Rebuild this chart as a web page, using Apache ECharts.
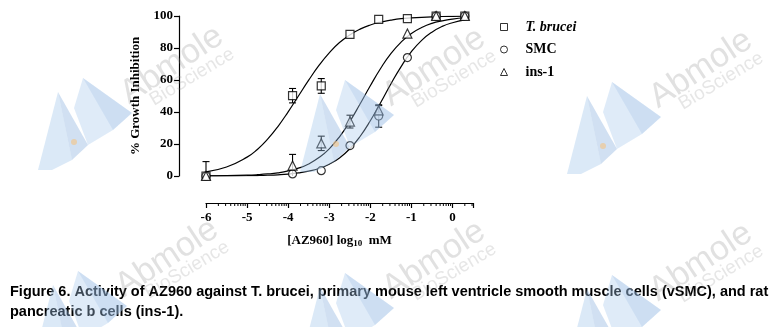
<!DOCTYPE html>
<html><head><meta charset="utf-8">
<script src="https://cdn.jsdelivr.net/npm/echarts@6/dist/echarts.min.js"></script>
<style>html,body{margin:0;padding:0;background:#fff}#c{width:779px;height:327px}</style>
</head><body><div id="c"></div>
<script>
// ---------------- data ----------------
const seriesNames = ['T. brucei', 'SMC', 'ins-1'];
// log10 concentration (mM) of measured points
const concLog = [-6, -3.893, -3.194, -2.495, -1.796, -1.097, -0.398, 0.301];
const tbrucei = [0, 50.2, 56.3, 88.5, 97.9, 98.3, 100, 100];
const smc     = [0, 1.3, 3.3, 19.0, 37.5, 74.0, 100, 100];
const ins1    = [0, 6.5, 20.4, 34.0, 41.0, 89.0, 100, 100];
const tbruceiErr = [0, 4.5, 4.6, 0, 0, 0, 0, 0];
const smcErr     = [0, 0, 0, 0, 7.0, 0, 0, 0];
const ins1Err    = [9.0, 7.0, 4.5, 4.0, 3.0, 0, 0, 0];
// fitted curves
const curveX = [-6, -5.5, -5, -4.75, -4.5, -4.25, -4, -3.75, -3.5, -3.25, -3, -2.75, -2.5, -2.25, -2, -1.75, -1.5, -1.25, -1, -0.75, -0.5, -0.25, 0, 0.3];
const tbruceiCurve = [2.6, 5.6, 11.8, 16.6, 23.0, 30.9, 40.1, 50.0, 59.9, 69.1, 77.0, 83.4, 88.2, 91.8, 94.4, 96.2, 97.4, 98.3, 98.8, 99.2, 99.5, 99.7, 99.8, 99.9];
const smcCurve     = [0.03, 0.07, 0.18, 0.29, 0.47, 0.75, 1.19, 1.9, 3.0, 4.7, 7.4, 11.3, 17.0, 24.7, 34.5, 45.8, 57.5, 68.4, 77.7, 84.8, 89.9, 93.5, 95.8, 97.6];
const ins1Curve    = [0.08, 0.2, 0.51, 0.81, 1.28, 2.0, 3.15, 4.9, 7.55, 11.5, 17.0, 24.5, 34.0, 45.0, 56.4, 67.2, 76.5, 83.7, 89.1, 92.8, 95.4, 97.0, 98.1, 98.9];
// axis ticks
const yTicks = [0, 20, 40, 60, 80, 100];
const xMajor = [-6, -5, -4, -3, -2, -1, 0];
const minorFactors = [2, 3, 4, 5, 6, 7, 8, 9];
const captionLines = [
  'Figure 6. Activity of AZ960 against T. brucei, primary mouse left ventricle smooth muscle cells (vSMC), and rat',
  'pancreatic b cells (ins-1).'
];

// ---------------- chart ----------------
const X_MIN = -6, X_MAX = 0.5;
const AXIS_OFFSET = 27;
const serif = '"Liberation Serif","Times New Roman",serif';
const minorTicks = [];
xMajor.forEach(d => minorFactors.forEach(k => { const v = d + Math.log10(k); if (v <= X_MAX) minorTicks.push([v, 0]); }));

function errData(vals, errs) {
  const out = [];
  concLog.forEach((x, i) => { if (errs[i] > 0) out.push([x, Math.max(0, vals[i] - errs[i]), vals[i] + errs[i]]); });
  return out;
}
function errRender(params, api) {
  const x = api.value(0), lo = api.value(1), hi = api.value(2);
  const pl = api.coord([x, lo]), ph = api.coord([x, hi]);
  const hw = 3.5, st = { stroke: '#000', lineWidth: 1.1 };
  const ch = [
    { type: 'line', shape: { x1: pl[0], y1: pl[1], x2: ph[0], y2: ph[1] }, style: st },
    { type: 'line', shape: { x1: ph[0] - hw, y1: ph[1], x2: ph[0] + hw, y2: ph[1] }, style: st }
  ];
  if (lo > 0) ch.push({ type: 'line', shape: { x1: pl[0] - hw, y1: pl[1], x2: pl[0] + hw, y2: pl[1] }, style: st });
  return { type: 'group', children: ch };
}
function minorRender(params, api) {
  const p = api.coord([api.value(0), 0]);
  return { type: 'line', shape: { x1: p[0], y1: p[1] + AXIS_OFFSET, x2: p[0], y2: p[1] + AXIS_OFFSET + 3 }, style: { stroke: '#000', lineWidth: 1 } };
}

// watermark
const wmAnchors = [[38, 78], [300, 80], [567, 82], [33, 271], [300, 273], [567, 275]];
const wm = [];
wmAnchors.forEach(([ax, ay]) => {
  const P = pts => pts.map(([a, b]) => [ax + a, ay + b]);
  wm.push({ type: 'polygon', shape: { points: P([[0, 92], [20, 14], [34, 82], [14, 92]]) }, style: { fill: 'rgba(160,198,235,0.38)' }, silent: true, z: 100 });
  wm.push({ type: 'polygon', shape: { points: P([[20, 14], [50, 67], [34, 82]]) }, style: { fill: 'rgba(140,178,222,0.40)' }, silent: true, z: 100 });
  wm.push({ type: 'polygon', shape: { points: P([[45, 0], [94, 35], [75, 52], [50, 67], [36, 30]]) }, style: { fill: 'rgba(165,200,235,0.36)' }, silent: true, z: 100 });
  wm.push({ type: 'polygon', shape: { points: P([[45, 0], [94, 35], [75, 52]]) }, style: { fill: 'rgba(140,178,222,0.22)' }, silent: true, z: 100 });
  wm.push({ type: 'circle', shape: { cx: ax + 36, cy: ay + 64, r: 3 }, style: { fill: 'rgba(245,195,130,0.6)' }, silent: true, z: 100 });
  wm.push({ type: 'text', x: ax + 134, y: ay - 13, rotation: 0.58, silent: true, z: 100,
    style: { text: 'Abmole', fill: 'rgba(140,140,140,0.26)', font: '34px "Liberation Sans",Arial,sans-serif', align: 'center', verticalAlign: 'middle' } });
  wm.push({ type: 'text', x: ax + 154, y: ay - 1, rotation: 0.54, silent: true, z: 100,
    style: { text: 'BioScience', fill: 'rgba(140,140,140,0.22)', font: '19px "Liberation Sans",Arial,sans-serif', align: 'center', verticalAlign: 'middle' } });
});
const caption = captionLines.map((t, i) => ({
  type: 'text', x: 10, y: 292 + i * 19.5, z: 50,
  style: { text: t, fill: '#000', font: 'bold 14.5px "Liberation Sans",Arial,sans-serif', align: 'left', verticalAlign: 'middle' }
}));

const blackLine = { color: '#000', width: 1.2 };
const markerStyle = { color: '#fff', borderColor: '#000', borderWidth: 1.2 };
const symbols = ['rect', 'circle', 'triangle'];
const values = [tbrucei, smc, ins1];
const errs = [tbruceiErr, smcErr, ins1Err];
const curves = [tbruceiCurve, smcCurve, ins1Curve];

const series = [];
curves.forEach((c, k) => series.push({
  name: 'fit-' + k, type: 'line', data: curveX.map((x, i) => [x, c[i]]), showSymbol: false, symbol: 'none',
  smooth: true, lineStyle: blackLine, itemStyle: { color: '#000' }, z: 2, silent: true
}));
errs.forEach((e, k) => series.push({
  name: 'err-' + k, type: 'custom', renderItem: errRender, data: errData(values[k], e), z: 3, silent: true, clip: false
}));
values.forEach((v, k) => series.push({
  name: seriesNames[k], type: 'scatter', symbol: symbols[k], symbolSize: k === 2 ? 9 : 8,
  data: concLog.map((x, i) => [x, v[i]]), itemStyle: markerStyle, z: 5
}));
series.push({ name: 'minor', type: 'custom', renderItem: minorRender, data: minorTicks, clip: false, silent: true, z: 1 });

const chart = echarts.init(document.getElementById('c'));
chart.setOption({
  animation: false,
  backgroundColor: '#fff',
  grid: { left: 206, right: 306, top: 16, bottom: 151, containLabel: false },
  xAxis: {
    type: 'value', min: X_MIN, max: X_MAX, interval: 1, offset: AXIS_OFFSET,
    axisLine: { show: true, onZero: false, lineStyle: blackLine },
    axisTick: { show: true, length: 5, lineStyle: blackLine },
    minorTick: { show: false },
    splitLine: { show: false },
    axisLabel: { color: '#000', fontFamily: serif, fontWeight: 'bold', fontSize: 13, margin: 8,
      formatter: v => (xMajor.indexOf(v) >= 0 ? String(v) : '') },
    name: '[AZ960] log{sub|10}  mM', nameLocation: 'middle', nameGap: 30,
    nameTextStyle: { color: '#000', fontFamily: serif, fontWeight: 'bold', fontSize: 13,
      rich: { sub: { fontFamily: serif, fontWeight: 'bold', fontSize: 9, padding: [6, 0, 0, 0], color: '#000' } } }
  },
  yAxis: {
    type: 'value', min: yTicks[0], max: yTicks[yTicks.length - 1], interval: 20, offset: AXIS_OFFSET,
    axisLine: { show: true, onZero: false, lineStyle: blackLine },
    axisTick: { show: true, length: 5, lineStyle: blackLine },
    splitLine: { show: false },
    axisLabel: { color: '#000', fontFamily: serif, fontWeight: 'bold', fontSize: 13, margin: 6 },
    name: '% Growth Inhibition', nameLocation: 'middle', nameGap: 37,
    nameTextStyle: { color: '#000', fontFamily: serif, fontWeight: 'bold', fontSize: 13 }
  },
  legend: {
    data: seriesNames.map(n => ({ name: n, itemStyle: { color: '#fff', borderColor: '#000', borderWidth: 1 } })),
    orient: 'vertical', left: 500, top: 20, padding: 0, itemWidth: 7, itemHeight: 7, itemGap: 8.5,
    selectedMode: false,
    formatter: n => (n === 'T. brucei' ? '{i|' + n + '}' : n),
    textStyle: { color: '#000', fontFamily: serif, fontWeight: 'bold', fontSize: 14, padding: [0, 0, 0, 13],
      rich: { i: { fontFamily: serif, fontWeight: 'bold', fontStyle: 'italic', fontSize: 14, color: '#000' } } }
  },
  graphic: { elements: caption.concat(wm) },
  series: series
});
</script></body></html>
